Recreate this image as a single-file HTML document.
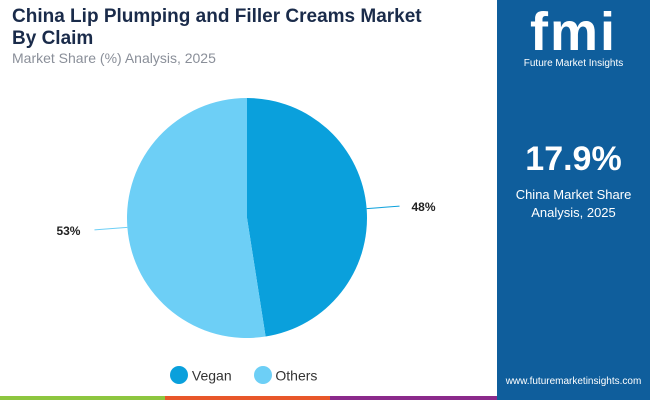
<!DOCTYPE html>
<html><head><meta charset="utf-8"><style>
body{margin:0;width:650px;height:400px;overflow:hidden;background:#fff;font-family:"Liberation Sans",sans-serif;position:relative}
.t{position:absolute;left:12px;top:6px;font-size:19px;font-weight:bold;color:#1a2b4a;line-height:22px}
.s{position:absolute;left:12px;top:50px;font-size:14px;color:#8a8f99}
.panel{position:absolute;left:497px;top:0;width:153px;height:400px;background:#0f5e9c}
.bar{position:absolute;top:396px;height:4px}
</style></head><body>
<div class="t">China Lip Plumping and Filler Creams Market<br>By Claim</div>
<div class="s">Market Share (%) Analysis, 2025</div>
<svg id="pie" width="497" height="396" style="position:absolute;left:0;top:0"></svg>
<div class="panel">
 <div style="position:absolute;left:0;width:153px;top:4px;text-align:center;color:#fff;font-size:54px;font-weight:bold;letter-spacing:2px;line-height:56px">fmi</div>
 <div style="position:absolute;left:0;width:153px;top:58px;text-align:center;color:#fff;font-size:10px">Future Market Insights</div>
 <div style="position:absolute;left:0;width:153px;top:140px;text-align:center;color:#fff;font-size:34px;font-weight:bold">17.9%</div>
 <div style="position:absolute;left:0;width:153px;top:186px;text-align:center;color:#fff;font-size:13px;line-height:18px">China Market Share<br>Analysis, 2025</div>
 <div style="position:absolute;left:0;width:153px;top:376px;text-align:center;color:#fff;font-size:10px">www.futuremarketinsights.com</div>
</div>
<div class="bar" style="left:0;width:165px;background:#8dc63f"></div>
<div class="bar" style="left:165px;width:165px;background:#e8572a"></div>
<div class="bar" style="left:330px;width:167px;background:#8b2a8b"></div>
<div style="position:absolute;top:366px;left:170px;font-size:14px;color:#333">
 <span style="display:inline-block"><span style="display:inline-block;width:18px;height:18px;border-radius:50%;background:#0aa0dc;vertical-align:middle"></span> <span style="vertical-align:middle">Vegan</span></span>
 <span style="display:inline-block;margin-left:18px"><span style="display:inline-block;width:18px;height:18px;border-radius:50%;background:#6dcff6;vertical-align:middle"></span> <span style="vertical-align:middle">Others</span></span>
</div>
<script>
const categories=["Vegan","Others"];
const values=[48,53];
const colors=["#0aa0dc","#6dcff6"];
const svg=document.getElementById('pie');
const NS="http://www.w3.org/2000/svg";
const cx=247,cy=218,r=120;
const total=values.reduce((a,b)=>a+b,0);
let a0=0;
values.forEach((v,i)=>{
 const a1=a0+v/total*Math.PI*2;
 const p=(a)=>[cx+r*Math.sin(a),cy-r*Math.cos(a)];
 const [x0,y0]=p(a0),[x1,y1]=p(a1);
 const path=document.createElementNS(NS,'path');
 path.setAttribute('d',`M${cx},${cy}L${x0},${y0}A${r},${r} 0 ${a1-a0>Math.PI?1:0} 1 ${x1},${y1}Z`);
 path.setAttribute('fill',colors[i]);
 
 
 svg.appendChild(path);
 const m=(a0+a1)/2;
 const sx=Math.sin(m),sy=-Math.cos(m);
 const line=document.createElementNS(NS,'line');
 line.setAttribute('x1',cx+r*sx);line.setAttribute('y1',cy+r*sy);
 line.setAttribute('x2',cx+(r+33)*sx);line.setAttribute('y2',cy+(r+33)*sy);
 line.setAttribute('stroke',colors[i]);line.setAttribute('stroke-width','1');
 
 
 svg.appendChild(line);
 const t=document.createElementNS(NS,'text');
 const lx=cx+(r+45)*sx;
 t.setAttribute('x',sx>0?lx:lx-2);t.setAttribute('y',cy+(r+33)*sy+5);
 t.setAttribute('text-anchor',sx>0?'start':'end');
 t.setAttribute('font-size','12');t.setAttribute('font-weight','bold');t.setAttribute('fill','#222');
 t.textContent=v+'%';
 
 
 svg.appendChild(t);
 a0=a1;
});
</script>
</body></html>
